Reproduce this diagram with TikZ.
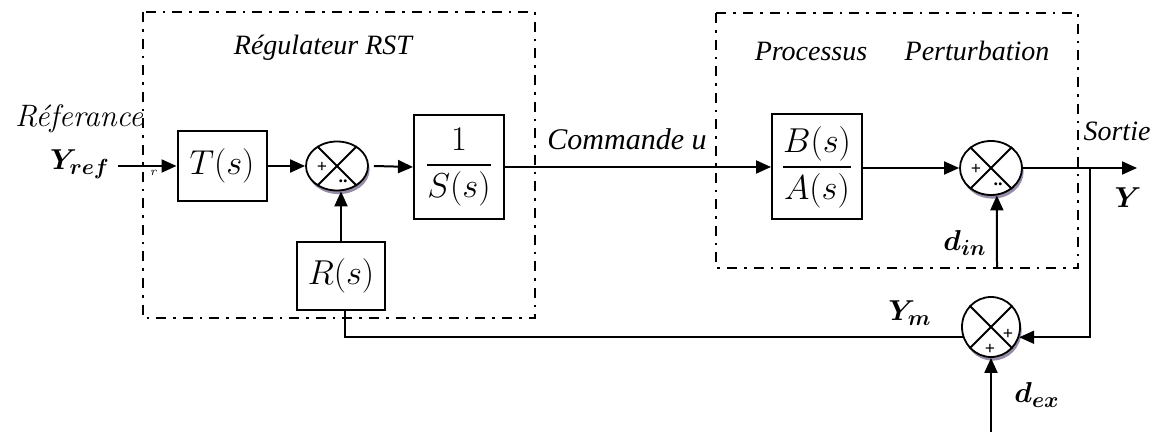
\documentclass[tikz,border=0pt]{standalone}
\usepackage{amsmath}
\usepackage{bm}
\usepackage{fontspec}
\newfontfamily\tnr{Liberation Serif}
\usetikzlibrary{arrows.meta,shapes.geometric,shadows}
\definecolor{shadowc}{RGB}{150,140,168}
\begin{document}
\begin{tikzpicture}[x=0.5pt,y=-0.5pt,
  blk/.style={draw,line width=1pt,inner sep=0pt,font=\fontsize{16.5}{18}\selectfont},
  sumnode/.style={ellipse,draw,line width=0.9pt,fill=white,inner sep=0pt,
    general shadow={fill=shadowc,shadow xshift=0.8pt,shadow yshift=-1.8pt}},
  arr/.style={line width=1pt,-{Triangle[length=7.5pt,width=6.5pt]}},
  ln/.style={line width=1pt},
  dd/.style={line width=1.2pt,dash pattern=on 5pt off 3.5pt on 1.3pt off 3.5pt},
  lab/.style={font=\tnr\fontsize{14}{16}\selectfont\itshape},
  mlab/.style={font=\fontsize{15.5}{17}\selectfont,inner sep=0pt},
  sgn/.style={font=\tnr\fontsize{9}{9}\selectfont\bfseries,inner sep=0pt}
]
\useasboundingbox (0,0) rectangle (1161,432);
% frames
\draw[dd] (143,12) rectangle (535,318);
\draw[dd] (716,13) rectangle (1078,268);
% titles
\node[lab,anchor=base] (treg) at (323,55) {Régulateur RST};
\node[lab,anchor=base] (tpro) at (811,61) {Processus};
\node[lab,anchor=base] (tper) at (977,61) {Perturbation};
% blocks
\node[blk,minimum width=44.5pt,minimum height=35pt] (T) at (222,166) {$T(s)$};
\node[sumnode,minimum width=31pt,minimum height=24.5pt] (s1) at (337,166) {};
\node[blk,minimum width=45pt,minimum height=52pt] (S) at (459,167) {$\dfrac{\;1\;}{S(s)}$};
\node[blk,minimum width=44pt,minimum height=34pt] (R) at (341,276) {$R(s)$};
\node[blk,minimum width=45pt,minimum height=52.5pt] (BA) at (817,167) {$\dfrac{B(s)}{A(s)}$};
\node[sumnode,minimum width=31pt,minimum height=27pt] (s2) at (991,168) {};
\node[sumnode,minimum width=29pt,minimum height=30pt] (s3) at (991,327) {};
% crosses
\foreach \s in {s1,s2,s3}{
  \draw[line width=0.9pt] (\s.45) -- (\s.225) (\s.135) -- (\s.-45);
}
% signs
\node[sgn] (p1) at (322,167) {+};
\node[sgn] (m1) at (343,181) {..};
\node[sgn] (p2) at (976,169) {+};
\node[sgn] (m2) at (998,184) {..};
\node[sgn] (p3a) at (1008,334) {+};
\node[sgn] (p3b) at (990,349) {+};
% coordinates
\coordinate (yin) at (118,166);
\coordinate (yout) at (1137,168);
\coordinate (br) at (1090,168);
\coordinate (din) at (997,268);
\coordinate (dex) at (991,432);
% connectors
\draw[arr] (yin) -- (T.west);
\draw[arr] (T.east) -- (s1.west);
\draw[arr] ([xshift=2.5pt]s1.east) -- (S.west);
\draw[arr] (R.north) -- (R.north |- s1.south);
\draw[arr] (S.east) -- (S.east -| BA.west);
\draw[arr] (BA.east |- s2.west) -- (s2.west);
\draw[arr] (s2.east) -- (yout);
\draw[arr] (din) -- (s2.-78);
\draw[arr] (br) |- (s3.-20);
\draw[arr] (dex) -- (s3.south);
\draw[ln] (s3.200) -| ([xshift=2pt]R.south);
% labels
\node[font=\fontsize{15.5}{17}\selectfont\itshape,inner sep=0pt] (lref) at (79,119) {Réferance};
\node[mlab] (lyref) at (80,164) {$\bm{Y_{ref}}$};
\node[font=\fontsize{6}{6}\selectfont,inner sep=0pt] (lr) at (154,173) {$r$};
\node[lab,anchor=base,font=\tnr\fontsize{15}{17}\selectfont\itshape] (lcmd) at (627,150) {Commande u};
\node[lab,anchor=base] (lsort) at (1117,141) {Sortie};
\node[mlab] (ly) at (1128,198) {$\bm{Y}$};
\node[mlab] (ldin) at (965,243) {$\bm{d_{in}}$};
\node[mlab] (lym) at (910,313) {$\bm{Y_m}$};
\node[mlab] (ldex) at (1037,395) {$\bm{d_{ex}}$};
\end{tikzpicture}
\end{document}
